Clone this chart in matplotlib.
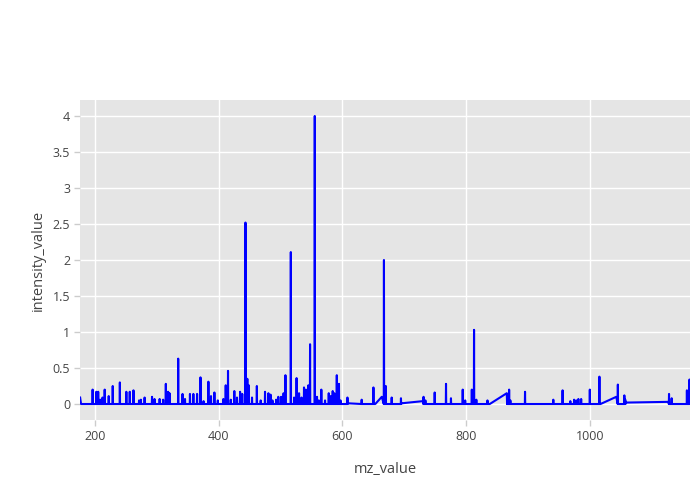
import matplotlib
matplotlib.use("Agg")
import matplotlib.pyplot as plt
from matplotlib.ticker import FuncFormatter

plt.rcParams['font.family'] = ['Open Sans', 'DejaVu Sans']

# centroided peaks: m/z and intensity
peak_mz = [
    196.2, 202.2, 205.2, 208.2, 212.2, 215.7, 222.2, 228.7, 240.2, 250.7, 256.2,
    262.2, 271.2, 274.2, 280.2, 292.2, 296.2, 304.5, 310.2, 314.5, 318.2, 320.5,
    334.5, 341.5, 345.5, 353.5, 359, 365, 370.5, 375.5, 383.3, 387.5, 393, 398.5,
    407.5, 411.3, 415, 419.5, 425.2, 429.5, 434.5, 438, 443.2, 446.2, 448.6,
    453.8, 461.6, 467.8, 474.8, 480.3, 483.8, 486.8, 492.8, 496.3, 500.8, 504.8,
    507.8, 516.5, 521.8, 525.8, 529.8, 533.8, 537.8, 540.8, 544.8, 547.6,
    555.2, 558.8, 561.8, 565.8, 571.8, 577.8, 580.8, 584.2, 586.8, 590.8, 594.3,
    596.8, 608, 631, 650, 667, 670, 679.5, 694.5, 731, 734, 749, 767.3, 775.3,
    794.3, 798.3, 809, 812.6, 816.3, 834.3, 866.3, 869.3, 871.3, 895, 940.7,
    955.7, 968.2, 974.3, 977.7, 981.2, 985.7, 999.7, 1015.2, 1045, 1055.5,
    1057, 1127.7, 1132, 1156.6, 1160.8,
]
peak_intensity = [
    0.20, 0.17, 0.17, 0.06, 0.09, 0.20, 0.11, 0.25, 0.30, 0.17, 0.17,
    0.19, 0.05, 0.06, 0.09, 0.10, 0.07, 0.07, 0.06, 0.28, 0.17, 0.15,
    0.63, 0.14, 0.07, 0.14, 0.14, 0.14, 0.37, 0.04, 0.31, 0.11, 0.16, 0.05,
    0.07, 0.26, 0.46, 0.06, 0.18, 0.09, 0.17, 0.14, 2.52, 0.35, 0.26,
    0.09, 0.25, 0.05, 0.17, 0.15, 0.13, 0.05, 0.06, 0.10, 0.10, 0.15,
    0.40, 2.11, 0.09, 0.36, 0.15, 0.09, 0.23, 0.20, 0.26, 0.83,
    4.00, 0.10, 0.05, 0.20, 0.05, 0.15, 0.11, 0.18, 0.15, 0.40, 0.28,
    0.05, 0.09, 0.06, 0.23, 2.00, 0.25, 0.09, 0.08, 0.10, 0.05, 0.16, 0.28, 0.08,
    0.20, 0.05, 0.20, 1.03, 0.06, 0.05, 0.13, 0.20, 0.05, 0.17, 0.06,
    0.19, 0.04, 0.06, 0.05, 0.07, 0.07, 0.20, 0.38, 0.27, 0.12,
    0.06, 0.14, 0.08, 0.19, 0.34,
]

# baseline points between peaks (where the profile is not flat at zero)
base_mz = [176, 177.5, 609, 653, 663.5, 695.5, 730, 838, 865.5, 1017, 1042.5,
           1058, 1127, 1161.6]
base_intensity = [0.09, 0, 0.01, 0, 0.10, 0.01, 0.04, 0, 0.15, 0, 0.10,
                  0.02, 0.03, 0.05]

x_ticks = [200, 400, 600, 800, 1000]
y_ticks = [0, 0.5, 1, 1.5, 2, 2.5, 3, 3.5, 4]

# build one profile: each peak is a stick rising from the baseline
pts = list(zip(base_mz, base_intensity))
for m, h in zip(peak_mz, peak_intensity):
    pts += [(m - 0.3, 0), (m, h), (m + 0.3, 0)]
pts.sort(key=lambda p: p[0])
mz_value = [p[0] for p in pts]
intensity_value = [p[1] for p in pts]

fig = plt.figure(figsize=(7, 5), dpi=100)
ax = fig.add_axes([80 / 700, 80 / 500, 610 / 700, 320 / 500])
ax.set_facecolor('#e5e5e5')

ax.plot(mz_value, intensity_value, color='#0000ff', linewidth=1.5,
        solid_joinstyle='round')

ax.set_xlim(175.8, 1161.6)
ax.set_ylim(-0.222, 4.222)
ax.set_xticks(x_ticks)
ax.set_yticks(y_ticks)
ax.yaxis.set_major_formatter(FuncFormatter(lambda v, p: f"{v:g}"))

ax.grid(True, color='white', linewidth=1.0)
ax.set_axisbelow(True)
for s in ax.spines.values():
    s.set_visible(False)
ax.tick_params(colors='#444444', labelsize=9, length=4, width=1,
               direction='out', pad=3)
ax.tick_params(axis='both', color='#cccccc')

ax.set_xlabel('mz_value', fontsize=10.5, color='#444444', labelpad=14)
ax.set_ylabel('intensity_value', fontsize=10.5, color='#444444', labelpad=5)

fig.savefig('out.png', dpi=100)
